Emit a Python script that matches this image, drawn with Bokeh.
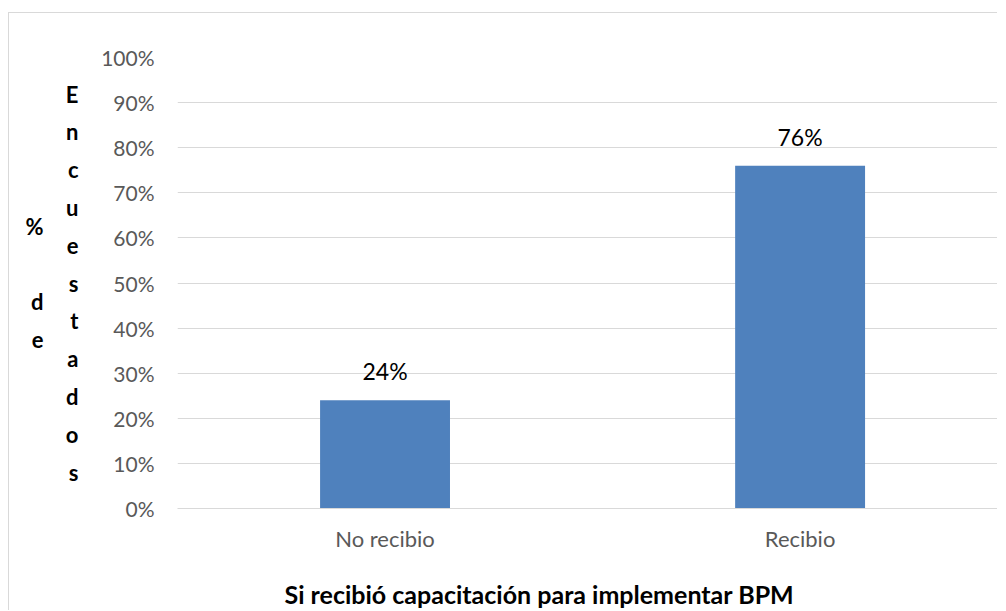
from bokeh.plotting import figure
from bokeh.models import (ColumnDataSource, Range1d, FixedTicker, NumeralTickFormatter,
                          LabelSet, LinearAxis)
from bokeh.core.properties import value
from bokeh.embed import file_html
from bokeh.resources import INLINE

# ---- data ----
categories = ["No recibio", "Recibio"]
values = [0.24, 0.76]
value_labels = ["24%", "76%"]
y_ticks = [0.0, 0.1, 0.2, 0.3, 0.4, 0.5, 0.6, 0.7, 0.8, 0.9, 1.0]
x_title = "Si recibió capacitación para implementar BPM"
y_title_col1 = ["%", " ", "d", "e"]
y_title_col2 = list("Encuestados")

FONT = "Lato"
x_pos = [i + 0.5 for i in range(len(categories))]
src = ColumnDataSource(dict(x=x_pos, top=values, lab=value_labels))

p = figure(width=989, height=598, output_backend="svg", toolbar_location=None,
           x_range=Range1d(0, 1.978), y_range=Range1d(0, 1.0),
           min_border_left=168, min_border_top=44, min_border_bottom=103,
           min_border_right=0)
p.margin = (12, 0, 0, 8)
p.styles = {"border-top": "1px solid #D9D9D9", "border-left": "1px solid #D9D9D9"}
p.outline_line_color = None
p.background_fill_color = "white"
p.border_fill_color = "white"

p.vbar(x="x", top="top", width=0.313, source=src, fill_color="#4F81BD",
       line_color=None)

p.add_layout(LabelSet(x="x", y="top", text="lab", source=src, y_offset=20,
                      text_align="center", text_baseline="alphabetic",
                      text_font=value(FONT), text_font_size="23px", text_color="#000000"))

# y axis
p.yaxis.ticker = FixedTicker(ticks=y_ticks)
p.yaxis.formatter = NumeralTickFormatter(format="0%")
p.yaxis.axis_line_color = None
p.yaxis.major_tick_line_color = None
p.yaxis.minor_tick_line_color = None
p.yaxis.major_tick_out = 0
p.yaxis.major_tick_in = 0
p.yaxis.major_label_standoff = 23
p.yaxis.major_label_text_font = FONT
p.yaxis.major_label_text_font_size = "21px"
p.yaxis.major_label_text_color = "#595959"

# y title: two stacked columns of letters, as extra left axes with only a label
def letter_axis(letters, standoff):
    ax = LinearAxis(ticker=FixedTicker(ticks=[]), axis_line_color=None,
                    major_tick_line_color=None, minor_tick_line_color=None,
                    major_label_text_font_size="0px", major_tick_out=0, major_tick_in=0,
                    axis_label="\n".join(letters), axis_label_orientation="horizontal",
                    axis_label_standoff=standoff, axis_label_text_font=FONT,
                    axis_label_text_font_size="22px", axis_label_text_font_style="bold",
                    axis_label_text_color="#000000", axis_label_text_line_height=1.40)
    p.add_layout(ax, "left")

letter_axis(y_title_col2, 20)
letter_axis(y_title_col1, 19)

# x axis
p.xaxis.ticker = FixedTicker(ticks=x_pos)
p.xaxis.major_label_overrides = {x: c for x, c in zip(x_pos, categories)}
p.xaxis.axis_line_color = "#D9D9D9"
p.xaxis.major_tick_line_color = None
p.xaxis.minor_tick_line_color = None
p.xaxis.major_tick_out = 0
p.xaxis.major_tick_in = 0
p.xaxis.major_label_standoff = 16
p.xaxis.major_label_text_font = FONT
p.xaxis.major_label_text_font_size = "22px"
p.xaxis.major_label_text_color = "#595959"

# x title on a label-only axis; trailing no-break spaces shift its centre left
title_axis = LinearAxis(ticker=FixedTicker(ticks=[]),
                        axis_line_color=None, major_tick_line_color=None,
                        minor_tick_line_color=None, major_label_text_font_size="0px",
                        major_tick_out=0, major_tick_in=0,
                        axis_label=x_title + "\u00a0" * 16, axis_label_standoff=24,
                        axis_label_text_font=FONT, axis_label_text_font_size="25px",
                        axis_label_text_font_style="bold", axis_label_text_color="#000000")
p.add_layout(title_axis, "below")

p.xgrid.grid_line_color = None
p.ygrid.ticker = FixedTicker(ticks=y_ticks)
p.ygrid.grid_line_color = "#D9D9D9"
p.ygrid.grid_line_width = 1

open("out.html", "w").write(file_html(p, INLINE))
